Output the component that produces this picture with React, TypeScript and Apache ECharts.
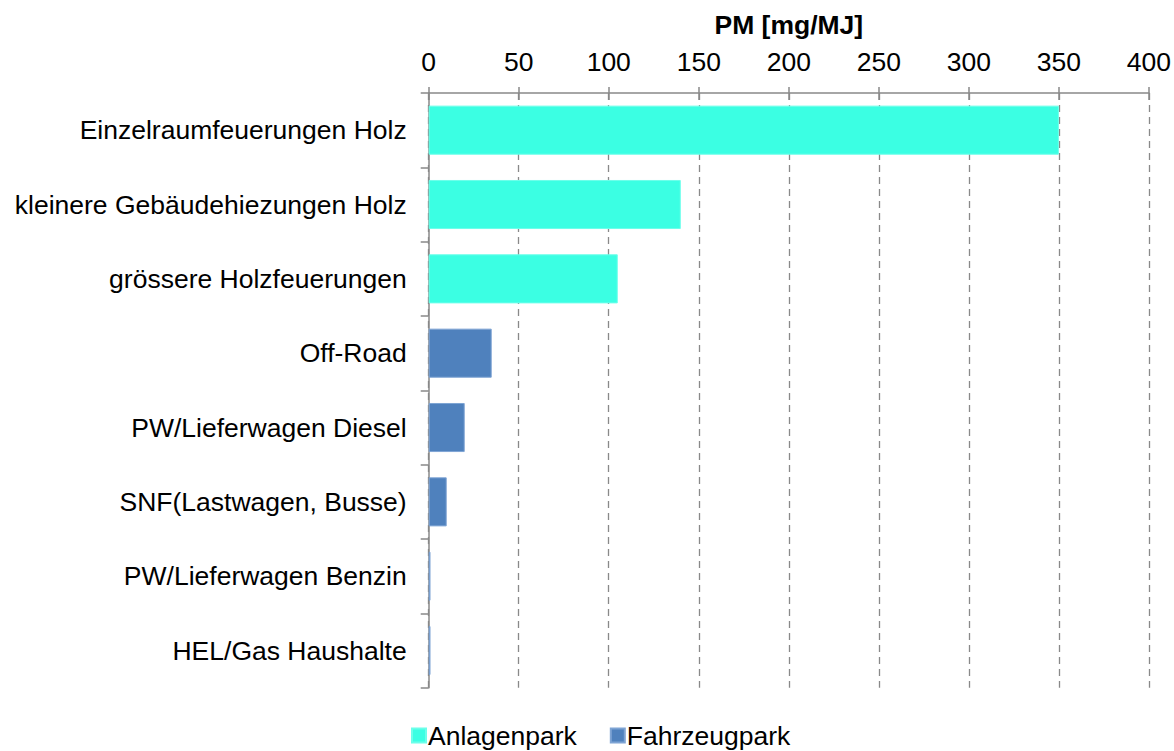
import React, { useEffect, useRef } from "react";
import * as echarts from "echarts";

const categories = [
  "Einzelraumfeuerungen Holz",
  "kleinere Gebäudehiezungen Holz",
  "grössere Holzfeuerungen",
  "Off-Road",
  "PW/Lieferwagen Diesel",
  "SNF(Lastwagen, Busse)",
  "PW/Lieferwagen Benzin",
  "HEL/Gas Haushalte",
];
const anlagenpark = [350, 140, 105, "-", "-", "-", "-", "-"];
const fahrzeugpark = ["-", "-", "-", 35, 20, 10, 1, 1];
const xTicks = { min: 0, max: 400, interval: 50 };

const FONT = "'Liberation Sans', Arial, sans-serif";
const GREY = "#898989";
const FS = 26.5;

export default function App() {
  const ref = useRef<HTMLDivElement>(null);
  useEffect(() => {
    if (!ref.current) return;
    const chart = echarts.init(ref.current, undefined, { renderer: "svg" });
    const xBase = {
      type: "value",
      position: "top",
      min: xTicks.min,
      max: xTicks.max,
      interval: xTicks.interval,
    };
    chart.setOption({
      animation: false,
      textStyle: { fontFamily: FONT },
      grid: { left: 428.7, right: 22.3, top: 93, bottom: 63.3, containLabel: false },
      legend: {
        left: 406,
        top: 717,
        itemWidth: 14,
        itemHeight: 14,
        itemGap: 33,
        icon: "rect",
        textStyle: { fontSize: FS, color: "#000", fontFamily: FONT, padding: [0, 0, 0, -3] },
        data: ["Anlagenpark", "Fahrzeugpark"],
      },
      xAxis: [
        {
          ...xBase,
          name: "PM [mg/MJ]",
          nameLocation: "middle",
          nameGap: 55,
          nameTextStyle: { fontSize: FS, fontWeight: "bold", color: "#000", fontFamily: FONT },
          axisLine: { show: true, lineStyle: { color: GREY, width: 1.5 } },
          axisTick: { show: true, length: 6, lineStyle: { color: GREY, width: 1.5 } },
          axisLabel: { fontSize: FS, color: "#000", margin: 18, fontFamily: FONT },
          splitLine: { show: true, lineStyle: { color: GREY, width: 1.3, type: [7, 5] } },
        },
        {
          ...xBase,
          axisLine: { show: false },
          axisTick: { show: true, inside: true, length: 7, lineStyle: { color: GREY, width: 1.5 } },
          axisLabel: { show: false },
          splitLine: { show: false },
        },
      ],
      yAxis: {
        type: "category",
        inverse: true,
        data: categories,
        axisLine: { show: true, lineStyle: { color: GREY, width: 1.5 } },
        axisTick: { show: true, length: 8, alignWithLabel: false, lineStyle: { color: GREY, width: 1.5 } },
        axisLabel: { fontSize: FS, color: "#000", margin: 22, fontFamily: FONT },
      },
      series: [
        {
          name: "Anlagenpark",
          type: "bar",
          stack: "total",
          data: anlagenpark,
          barCategoryGap: "34%",
          itemStyle: { color: "#3BFFE3", borderColor: "#6CFFEA", borderWidth: 1 },
        },
        {
          name: "Fahrzeugpark",
          type: "bar",
          stack: "total",
          data: fahrzeugpark,
          barCategoryGap: "34%",
          itemStyle: { color: "#4F81BD", borderColor: "#7EA4D4", borderWidth: 1 },
        },
      ],
    });
    return () => chart.dispose();
  }, []);
  return (
    <div
      ref={ref}
      style={{ position: "fixed", left: 0, top: 0, width: 1174, height: 751, background: "#fff" }}
    />
  );
}
